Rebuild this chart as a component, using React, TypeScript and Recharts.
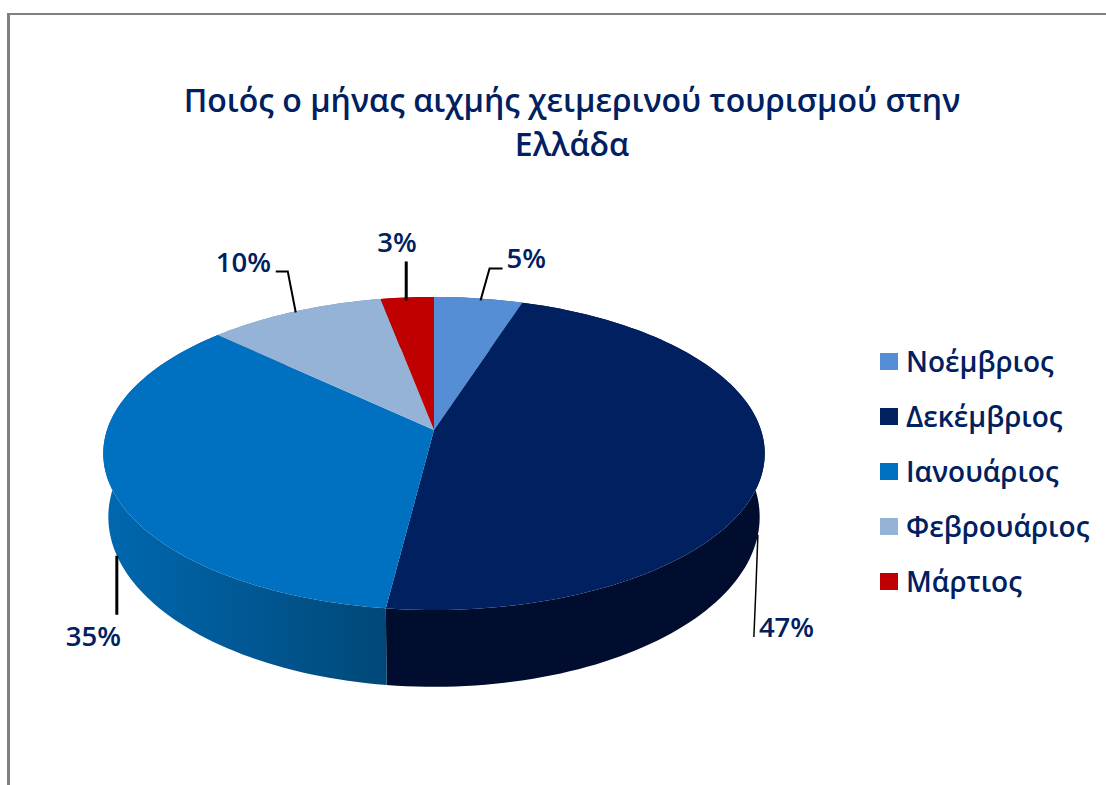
import React from 'react';
import { PieChart, Pie, Legend } from 'recharts';

const months = ['Νοέμβριος', 'Δεκέμβριος', 'Ιανουάριος', 'Φεβρουάριος', 'Μάρτιος'];
const shares = [5, 47, 35, 10, 3];
const colours = ['#558ED5', '#002060', '#0070C0', '#95B3D7', '#C00000'];
const sideFills = ['#2E5F9A', '#000D2E', 'url(#janSide)', '#6A85A8', '#8A0000'];
const titleLines = ['Ποιός ο μήνας αιχμής χειμερινού τουρισμού στην', 'Ελλάδα'];

const tableData = months.map((name, i) => ({ name, value: shares[i], fill: colours[i] }));

// Perspective projection of the flat pie onto the tilted top and bottom faces
const FONT = '"Open Sans", sans-serif';
const INK = '#002060';
const CX = 434;
const CY = 430;
const TILT = 0.15;
const TOP = { rx: 327, sy: 153, cy: CY };
const BOTTOM = { rx: 322, sy: 166, cy: 491.5 };

type Face = { rx: number; sy: number; cy: number };

function project(face: Face, angle: number): [number, number] {
  const t = ((90 - angle) * Math.PI) / 180;
  const x = Math.sin(t);
  const y = -Math.cos(t);
  const d = 1 - TILT * y;
  return [CX + (face.rx * x) / d, face.cy + (face.sy * y) / d];
}

function rim(face: Face, start: number, end: number): [number, number][] {
  const steps = Math.max(2, Math.ceil(Math.abs(end - start) / 1.5));
  const pts: [number, number][] = [];
  for (let i = 0; i <= steps; i++) pts.push(project(face, start + ((end - start) * i) / steps));
  return pts;
}

const toPath = (pts: [number, number][]) =>
  pts.map((p, i) => `${i ? 'L' : 'M'}${p[0].toFixed(2)} ${p[1].toFixed(2)}`).join(' ') + ' Z';

function TopSlice(props: any) {
  const pts = rim(TOP, props.startAngle, props.endAngle);
  return <path d={toPath([[CX, CY], ...pts])} fill={props.fill} stroke="none" />;
}

function SideSlice(props: any) {
  const top = rim(TOP, props.startAngle, props.endAngle);
  const bottom = rim(BOTTOM, props.startAngle, props.endAngle).reverse();
  const idx = months.indexOf(props.name);
  return <path d={toPath([...top, ...bottom])} fill={sideFills[idx] ?? props.fill} stroke="none" />;
}

// Leader geometry per slice, relative to the rim point the leader starts from
const leaders = [
  { face: TOP, start: [2, 2], elbow: [11, -30], end: [24, -30], text: [28, -30], width: 2 },
  { face: BOTTOM, start: [-1, 6], elbow: [-3, 60], end: [-5, 108], text: [0, 108], width: 1.5 },
  { face: BOTTOM, start: [2, 5], elbow: [2, 30], end: [2, 64], text: [-49, 95], width: 3 },
  { face: TOP, start: [1, 1], elbow: [-7, -40], end: [-19, -40], text: [-79, -40], width: 2 },
  { face: TOP, start: [-1, 3], elbow: [-1, -20], end: [-1, -36], text: [-30, -45], width: 3 },
];

function renderLabel(props: any) {
  const l = leaders[props.index];
  const [px, py] = project(l.face, props.midAngle);
  const at = (o: number[]) => `${px + o[0]} ${py + o[1]}`;
  return (
    <g key={props.index}>
      <path d={`M${at(l.start)} L${at(l.elbow)} L${at(l.end)}`} fill="none" stroke="#000" strokeWidth={l.width} />
      <text x={px + l.text[0]} y={py + l.text[1]} fontFamily={FONT} fontWeight={600} fontSize={27.5} fill={INK}>
        {`${Math.round(props.percent * 100)}%`}
      </text>
    </g>
  );
}

function LegendBox({ payload }: any) {
  const items = (payload ?? []).filter(
    (item: any, i: number, all: any[]) => all.findIndex((o) => o.value === item.value) === i,
  );
  return (
    <div style={{ fontFamily: FONT }}>
      {items.map((item: any) => (
        <div key={item.value} style={{ display: 'flex', alignItems: 'center', height: 55 }}>
          <span style={{ width: 18, height: 17, background: item.color, marginRight: 8, flex: 'none' }} />
          <span style={{ fontSize: 28, fontWeight: 600, color: INK, whiteSpace: 'nowrap', lineHeight: '55px' }}>{item.value}</span>
        </div>
      ))}
    </div>
  );
}

export default function App() {
  return (
    <div style={{ position: 'absolute', left: 0, top: 0, width: 1106, height: 785, background: '#fff', overflow: 'hidden' }}>
      <div style={{ position: 'absolute', left: 7, top: 13, width: 3, height: 772, background: '#808080' }} />
      <div style={{ position: 'absolute', left: 7, top: 13, width: 1099, height: 1.5, background: '#808080' }} />
      <PieChart width={1106} height={785} style={{ position: 'absolute', left: 0, top: 0 }}>
        <defs>
          <linearGradient id="janSide" gradientUnits="userSpaceOnUse" x1="105" y1="0" x2="387" y2="0">
            <stop offset="0%" stopColor="#0068B0" />
            <stop offset="100%" stopColor="#004878" />
          </linearGradient>
        </defs>
        {titleLines.map((line, i) => (
          <text key={line} x={572} y={112 + i * 44} textAnchor="middle" fontFamily={FONT} fontWeight={600} fontSize={32} fill={INK}>
            {line}
          </text>
        ))}
        <Pie
          data={tableData}
          dataKey="value"
          nameKey="name"
          cx={CX}
          cy={CY}
          outerRadius={TOP.rx}
          startAngle={90}
          endAngle={-270}
          stroke="none"
          legendType="none"
          isAnimationActive={false}
          shape={SideSlice as any}
        />
        <Pie
          data={tableData}
          dataKey="value"
          nameKey="name"
          cx={CX}
          cy={CY}
          outerRadius={TOP.rx}
          startAngle={90}
          endAngle={-270}
          stroke="none"
          isAnimationActive={false}
          shape={TopSlice as any}
          label={renderLabel}
          labelLine={false}
        />
        <Legend
          content={<LegendBox />}
          itemSorter={null as any}
          layout="vertical"
          align="right"
          verticalAlign="top"
          wrapperStyle={{ position: 'absolute', left: 880, top: 334, width: 226, right: 'auto', bottom: 'auto' }}
        />
      </PieChart>
    </div>
  );
}
